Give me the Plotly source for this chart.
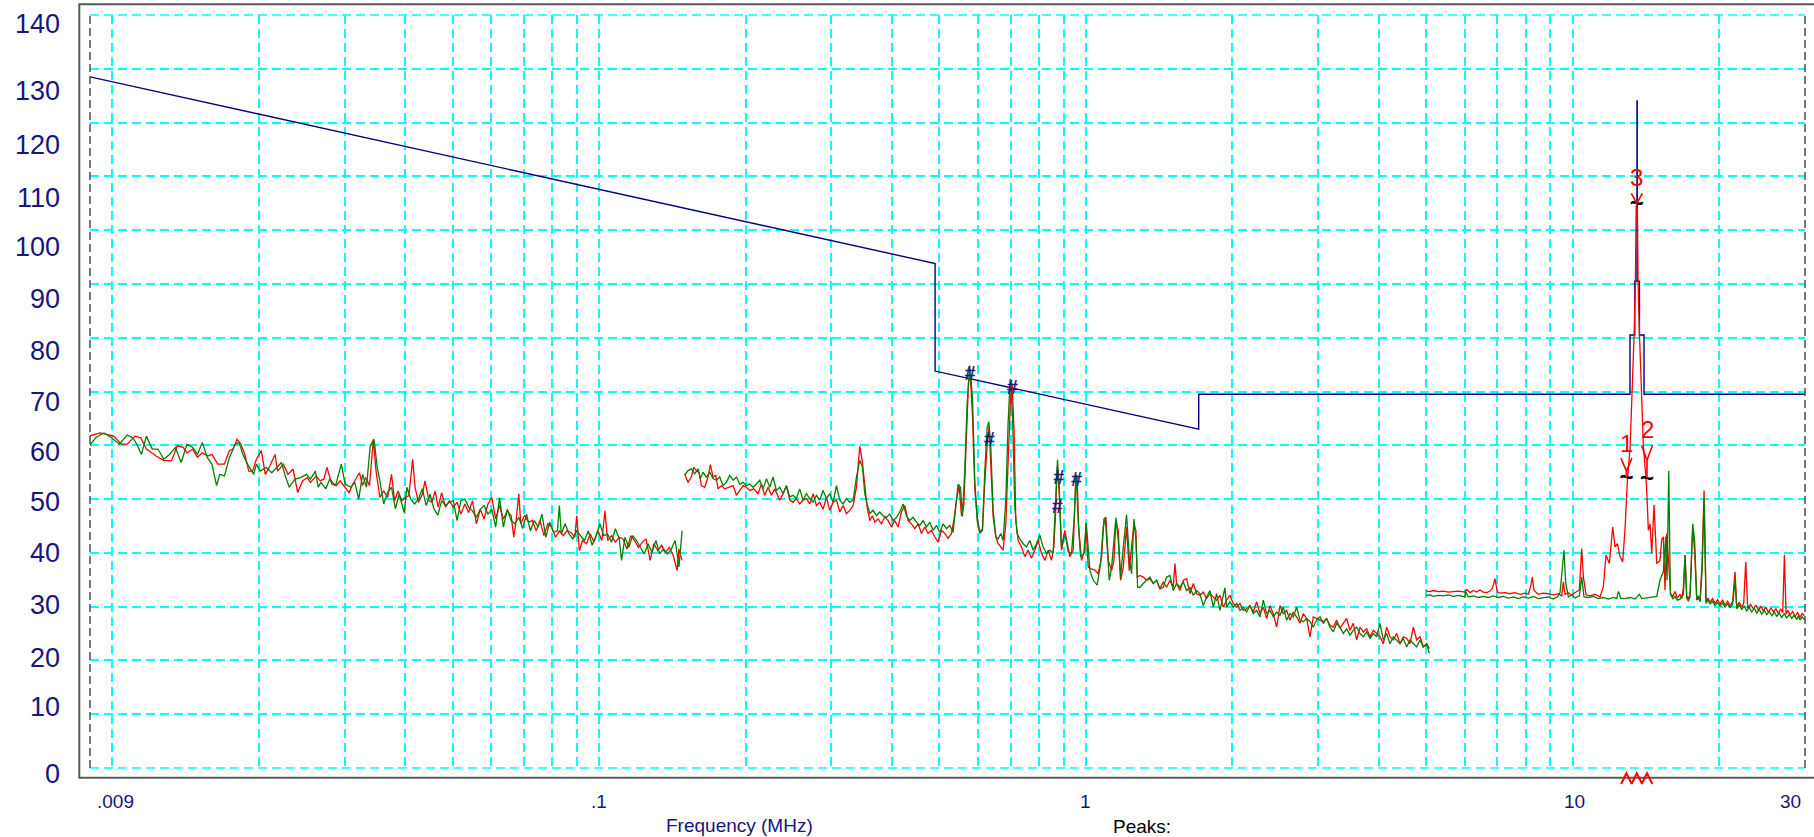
import numpy as np
import plotly.graph_objects as go

# ---------------- DATA ----------------
# Limit line (MHz, dBuV/m)
LIMIT_F = [0.009, 0.49, 0.49, 1.705, 1.705, 13.11, 13.11, 13.41, 13.41, 13.553, 13.553,
           13.567, 13.567, 13.71, 13.71, 14.01, 14.01, 30.0]
LIMIT_DB = [128.5, 93.8, 73.8, 63.0, 69.5, 69.5, 80.5, 80.5, 90.5, 90.5, 124.0,
            124.0, 90.5, 90.5, 80.5, 80.5, 69.5, 69.5]

# Band 1 (9 kHz - 150 kHz), frequencies in kHz
B1_RED_F_KHZ = [8.94, 9.44, 9.79, 10.06, 10.44, 10.73, 11.13, 11.44, 11.75, 12.30,
                12.76, 13.23, 13.60, 13.98, 14.24, 14.63, 14.96, 15.31, 15.73, 16.02,
                16.47, 16.99, 17.40, 17.72, 18.05, 18.38, 18.72, 19.07, 19.42, 19.77,
                20.24, 20.62, 21.08, 21.59, 21.86, 22.46, 22.96, 23.51, 24.04, 24.61,
                25.16, 25.53, 26.24, 26.72, 27.21, 27.61, 28.23, 28.85, 29.38, 29.92,
                30.64, 31.21, 31.78, 32.19, 32.67, 33.15, 33.76, 34.38, 34.82, 35.46,
                36.11, 36.78, 37.46, 38.01, 38.64, 39.35, 39.92, 40.66, 41.41, 41.87,
                42.56, 43.35, 43.90, 44.71, 45.36, 46.03, 46.71, 47.49, 48.37, 49.26,
                50.16, 51.09, 52.02, 52.98, 53.96, 54.95, 55.97, 57.00, 58.05, 59.11,
                60.20, 61.31, 62.44, 63.59, 64.77, 65.96, 66.80, 67.54, 68.40, 69.03,
                70.31, 71.60, 72.93, 74.27, 75.64, 77.03, 78.44, 79.89, 81.37, 82.86,
                84.39, 85.94, 87.53, 89.14, 89.96, 91.11, 92.46, 94.20, 95.90, 97.65,
                99.46, 101.3, 102.8, 104.1, 106.1, 108.0, 110.0, 112.0, 114.1, 116.2,
                118.3, 120.5, 122.7, 124.9, 127.3, 129.6, 132.0, 134.4, 136.9, 139.4,
                142.0, 144.6, 145.9, 148.1]
B1_RED = [61.7, 62.3, 62.0, 61.7, 60.2, 60.2, 61.7, 61.4, 59.3, 58.0,
          57.2, 57.1, 59.9, 59.6, 58.6, 59.3, 57.8, 58.6, 58.0, 58.3,
          56.5, 56.5, 59.0, 59.3, 61.1, 60.2, 58.3, 55.2, 55.2, 57.4,
          59.0, 54.6, 56.2, 58.3, 55.2, 56.5, 54.6, 55.6, 51.2, 53.4,
          54.0, 53.1, 54.3, 53.4, 53.7, 55.9, 52.8, 52.5, 53.4, 52.5,
          51.2, 52.8, 54.0, 54.9, 52.5, 54.0, 52.5, 61.1, 55.2, 50.3,
          51.5, 50.3, 54.6, 49.7, 51.5, 49.7, 50.3, 50.6, 57.4, 52.2,
          49.4, 50.9, 53.4, 49.7, 49.4, 51.5, 48.5, 51.2, 48.5, 49.7,
          48.5, 49.4, 47.2, 49.1, 47.5, 49.7, 45.4, 48.1, 46.3, 49.1,
          50.3, 46.3, 48.8, 46.3, 47.8, 46.9, 42.9, 46.0, 51.0, 45.4,
          47.0, 45.7, 46.0, 44.1, 46.0, 43.2, 45.4, 44.8, 42.9, 44.1,
          43.2, 44.1, 43.8, 42.9, 46.9, 40.4, 42.3, 41.7, 43.5, 42.0,
          44.1, 42.3, 47.8, 42.3, 43.2, 42.0, 42.9, 42.6, 40.7, 43.2,
          42.3, 41.0, 42.0, 42.6, 38.6, 41.7, 40.4, 41.4, 40.1, 41.0,
          39.5, 36.7, 40.7, 38.6]
B1_GRN_F_KHZ = [8.94, 9.27, 9.61, 9.97, 10.34, 10.73, 11.02, 11.23, 11.48, 11.75,
                12.08, 12.41, 12.76, 13.11, 13.48, 13.85, 14.24, 14.63, 14.96, 15.31,
                15.68, 16.02, 16.38, 16.63, 17.00, 17.40, 17.88, 18.21, 18.55, 18.96,
                19.52, 19.77, 20.14, 20.70, 21.27, 21.75, 22.26, 22.67, 23.09, 23.73,
                24.39, 25.07, 25.53, 26.14, 26.48, 26.82, 27.46, 27.97, 28.75, 29.54,
                30.08, 30.92, 31.49, 32.08, 32.67, 33.27, 33.88, 34.50, 35.01, 35.46,
                36.11, 36.78, 37.46, 38.15, 38.84, 39.78, 40.29, 41.03, 41.79, 42.56,
                43.35, 44.14, 44.95, 45.78, 46.63, 47.49, 48.37, 49.26, 50.16, 51.09,
                52.02, 52.98, 53.96, 54.95, 55.97, 57.00, 58.05, 59.11, 60.20, 61.31,
                62.44, 63.59, 64.77, 65.96, 67.17, 68.40, 69.67, 70.96, 72.26, 73.59,
                74.95, 76.33, 77.73, 79.17, 80.62, 82.11, 82.86, 83.62, 85.16, 86.73,
                88.33, 89.96, 91.61, 93.30, 95.05, 96.77, 98.56, 100.4, 102.2, 104.1,
                106.1, 108.0, 110.0, 111.2, 113.0, 115.1, 117.2, 119.4, 121.6, 123.8,
                126.1, 128.4, 130.8, 133.2, 135.6, 138.2, 140.7, 143.3, 145.9, 148.1]
B1_GRN = [59.7, 61.5, 62.3, 61.4, 60.2, 61.9, 61.4, 60.2, 58.3, 61.7,
          59.3, 59.3, 57.4, 58.3, 59.6, 56.8, 60.2, 59.6, 58.3, 60.5,
          57.7, 56.5, 52.5, 54.6, 54.3, 57.7, 60.2, 60.5, 58.3, 56.5,
          54.6, 56.5, 55.2, 55.9, 54.9, 55.9, 56.8, 54.3, 52.2, 53.7,
          54.0, 54.6, 53.7, 55.2, 52.2, 53.1, 51.9, 53.7, 52.5, 56.5,
          52.8, 52.2, 53.1, 50.0, 54.6, 52.2, 59.9, 61.1, 55.9, 53.4,
          49.1, 51.2, 52.2, 48.2, 50.9, 47.5, 52.2, 50.0, 49.1, 50.0,
          51.9, 48.8, 50.9, 48.2, 47.0, 49.7, 48.8, 49.4, 49.7, 46.0,
          49.7, 50.0, 48.5, 47.8, 46.6, 48.1, 48.8, 47.2, 48.1, 44.8,
          50.3, 44.8, 48.1, 46.0, 45.4, 46.6, 44.5, 47.2, 44.1, 46.0,
          44.8, 47.2, 42.9, 45.7, 43.8, 44.1, 48.8, 43.5, 45.4, 43.5,
          42.6, 44.1, 43.2, 42.3, 44.1, 41.4, 43.2, 45.4, 43.2, 43.5,
          42.0, 44.5, 42.6, 38.6, 42.9, 41.0, 43.2, 42.3, 41.0, 39.8,
          41.7, 40.1, 42.3, 39.8, 40.7, 39.8, 40.7, 42.3, 37.4, 44.1]

# Band 2 (150 kHz - 5 MHz), MHz
B2_RED_F = [0.1499, 0.1523, 0.1547, 0.1565, 0.1584, 0.1605, 0.1622, 0.1648, 0.1674, 0.1693,
            0.1714, 0.1736, 0.1756, 0.1783, 0.1812, 0.1841, 0.1885, 0.1915, 0.1945, 0.1976,
            0.2007, 0.2039, 0.2078, 0.2121, 0.2155, 0.2189, 0.2224, 0.2259, 0.2295, 0.2332,
            0.2350, 0.2388, 0.2425, 0.2464, 0.2503, 0.2543, 0.2583, 0.2624, 0.2666, 0.2709,
            0.2752, 0.2795, 0.2840, 0.2885, 0.2931, 0.2977, 0.3025, 0.3073, 0.3122, 0.3171,
            0.3222, 0.3273, 0.3325, 0.3378, 0.3410, 0.3431, 0.3470, 0.3514, 0.3553, 0.3598,
            0.3643, 0.3684, 0.3742, 0.3802, 0.3862, 0.3924, 0.3986, 0.4049, 0.4114, 0.4179,
            0.4246, 0.4313, 0.4382, 0.4451, 0.4522, 0.4594, 0.4667, 0.4741, 0.4816, 0.4893,
            0.4971, 0.5050, 0.5130, 0.5212, 0.5294, 0.5353, 0.5421, 0.5490, 0.5551, 0.5613,
            0.5684, 0.5738, 0.5783, 0.5848, 0.5912, 0.5987, 0.6054, 0.6131, 0.6199, 0.6268,
            0.6327, 0.6377, 0.6448, 0.6530, 0.6602, 0.6686, 0.6760, 0.6846, 0.6922, 0.6999,
            0.7055, 0.7122, 0.7178, 0.7258, 0.7373, 0.7490, 0.7609, 0.7730, 0.7853, 0.7978,
            0.8105, 0.8234, 0.8365, 0.8497, 0.8592, 0.8660, 0.8728, 0.8811, 0.8909, 0.8980,
            0.9051, 0.9151, 0.9267, 0.9415, 0.9474, 0.9534, 0.9595, 0.9655, 0.9793, 0.9949,
            1.0000,
            1.0111, 1.0272, 1.0434, 1.0600, 1.0770, 1.0889, 1.0993, 1.1115, 1.1291, 1.1416,
            1.1525, 1.1653, 1.1782, 1.1932, 1.2121, 1.2275, 1.2412, 1.2550, 1.2669, 1.2750,
            1.2911, 1.3115, 1.3324, 1.3536, 1.3751, 1.3970, 1.4192, 1.4418, 1.4647, 1.4879,
            1.5116, 1.5236, 1.5357, 1.5601, 1.5849, 1.6101, 1.6357, 1.6617, 1.6881, 1.7149,
            1.7421, 1.7698, 1.7979, 1.8265, 1.8555, 1.8851, 1.9150, 1.9455, 1.9764, 2.0078,
            2.0397, 2.0722, 2.1051, 2.1386, 2.1726, 2.2070, 2.2421, 2.2778, 2.3140, 2.3508,
            2.3882, 2.4262, 2.4647, 2.5039, 2.5437, 2.5841, 2.6252, 2.6669, 2.7093, 2.7524,
            2.7962, 2.8406, 2.8857, 2.9316, 2.9782, 3.0254, 3.0736, 3.1224, 3.1721, 3.2225,
            3.2737, 3.3257, 3.3786, 3.4323, 3.4869, 3.5422, 3.5986, 3.6558, 3.7139, 3.7730,
            3.8328, 3.8938, 3.9557, 4.0186, 4.0825, 4.1473, 4.2133, 4.2802, 4.3483, 4.4174,
            4.4876, 4.5589, 4.6314, 4.7050, 4.7798, 4.8557, 4.9330, 5.0113, 5.0750]
B2_RED = [54.7, 53.1, 54.1, 55.9, 55.3, 54.9, 52.5, 52.2, 54.1, 56.4,
          54.1, 54.4, 51.9, 52.5, 51.9, 52.2, 52.5, 50.7, 51.6, 52.5,
          52.2, 51.6, 51.9, 51.0, 52.8, 50.7, 52.2, 50.7, 51.9, 50.4,
          49.8, 51.0, 52.5, 49.8, 49.4, 50.1, 49.1, 49.8, 50.1, 49.1,
          51.0, 48.8, 49.4, 48.1, 50.3, 47.9, 49.4, 49.8, 47.6, 48.8,
          47.3, 47.9, 48.8, 52.2, 56.5, 59.8, 57.2, 52.2, 48.5, 46.0,
          46.9, 45.7, 46.3, 45.4, 46.7, 46.0, 44.8, 46.0, 44.8, 47.6,
          48.8, 46.0, 45.4, 44.5, 45.4, 43.6, 44.8, 43.6, 44.2, 43.0,
          42.0, 44.2, 43.6, 42.7, 43.6, 46.0, 49.8, 52.5, 46.9, 48.8,
          61.7, 71.6, 73.5, 65.4, 51.9, 46.3, 43.8, 44.5, 53.1, 60.0,
          63.4, 57.2, 46.7, 43.0, 41.7, 41.1, 40.5, 45.4, 57.2, 68.5,
          71.5, 62.0, 46.0, 42.3, 41.1, 39.3, 40.5, 39.0, 40.5, 42.3,
          39.9, 38.6, 40.5, 38.6, 41.1, 47.0, 56.0, 51.5, 40.5, 42.0,
          44.2, 41.7, 39.3, 40.5, 46.0, 54.0, 54.4, 45.0, 38.6, 40.5,
          45.5,
          37.3, 37.0, 36.8, 36.1, 39.2, 46.3, 46.6, 38.6, 36.7, 38.6,
          46.0, 44.1, 34.9, 37.3, 44.8, 36.7, 40.5, 45.4, 44.1, 35.5,
          35.8, 35.5, 34.9, 35.2, 34.3, 34.9, 33.3, 34.6, 33.6, 34.9,
          33.6, 38.0, 34.3, 33.0, 34.9, 35.2, 32.4, 34.3, 32.4, 32.1,
          32.7, 31.5, 32.4, 31.8, 31.2, 32.1, 29.9, 31.2, 32.1, 30.6,
          29.9, 30.6, 29.3, 29.6, 30.2, 29.0, 30.9, 28.7, 29.9, 27.8,
          30.2, 28.7, 26.2, 30.2, 28.7, 29.3, 27.5, 29.0, 28.1, 26.9,
          28.7, 27.8, 24.4, 28.1, 27.8, 27.5, 27.2, 27.8, 26.5, 26.2,
          27.5, 26.0, 26.9, 27.8, 25.6, 26.9, 23.8, 26.2, 25.3, 25.9,
          24.4, 25.6, 25.0, 24.4, 23.1, 26.2, 24.4, 23.8, 25.0, 23.1,
          24.4, 24.1, 23.1, 26.2, 23.8, 24.4, 22.5, 23.1, 22.2]
B2_GRN_F = [0.1499, 0.1523, 0.1547, 0.1572, 0.1597, 0.1615, 0.1635, 0.1661, 0.1688, 0.1714,
            0.1742, 0.1769, 0.1798, 0.1826, 0.1855, 0.1885, 0.1915, 0.1945, 0.1976, 0.2007,
            0.2039, 0.2072, 0.2105, 0.2138, 0.2172, 0.2207, 0.2242, 0.2277, 0.2313, 0.2350,
            0.2388, 0.2425, 0.2464, 0.2503, 0.2543, 0.2583, 0.2624, 0.2666, 0.2709, 0.2752,
            0.2795, 0.2840, 0.2885, 0.2931, 0.2977, 0.3025, 0.3073, 0.3122, 0.3171, 0.3222,
            0.3273, 0.3325, 0.3378, 0.3431, 0.3475, 0.3514, 0.3553, 0.3598, 0.3655, 0.3713,
            0.3772, 0.3832, 0.3893, 0.3955, 0.4018, 0.4082, 0.4147, 0.4212, 0.4279, 0.4347,
            0.4416, 0.4486, 0.4558, 0.4630, 0.4704, 0.4779, 0.4855, 0.4932, 0.5010, 0.5090,
            0.5171, 0.5253, 0.5336, 0.5404, 0.5464, 0.5525, 0.5577, 0.5639, 0.5702, 0.5774,
            0.5848, 0.5912, 0.5978, 0.6054, 0.6131, 0.6199, 0.6268, 0.6317, 0.6377, 0.6448,
            0.6530, 0.6602, 0.6686, 0.6760, 0.6846, 0.6922, 0.6988, 0.7066, 0.7144, 0.7223,
            0.7315, 0.7431, 0.7550, 0.7670, 0.7791, 0.7915, 0.8041, 0.8169, 0.8299, 0.8431,
            0.8565, 0.8660, 0.8742, 0.8811, 0.8909, 0.9008, 0.9094, 0.9195, 0.9341, 0.9460,
            0.9549, 0.9640, 0.9747, 0.9902, 1.0020,
            1.0191, 1.0352, 1.0550, 1.0718, 1.0855, 1.0958, 1.1062, 1.1168, 1.1291, 1.1434,
            1.1525, 1.1653, 1.1782, 1.1932, 1.2121, 1.2275, 1.2412, 1.2550, 1.2669, 1.2770,
            1.2911, 1.3115, 1.3324, 1.3536, 1.3751, 1.3970, 1.4192, 1.4418, 1.4647, 1.4879,
            1.5116, 1.5357, 1.5601, 1.5849, 1.6101, 1.6357, 1.6617, 1.6881, 1.7149, 1.7421,
            1.7698, 1.7979, 1.8265, 1.8555, 1.8851, 1.9150, 1.9302, 1.9455, 1.9764, 2.0078,
            2.0397, 2.0722, 2.1051, 2.1386, 2.1726, 2.2070, 2.2421, 2.2778, 2.3140, 2.3508,
            2.3882, 2.4262, 2.4647, 2.5039, 2.5437, 2.5841, 2.6252, 2.6669, 2.7093, 2.7524,
            2.7962, 2.8406, 2.8857, 2.9316, 2.9782, 3.0254, 3.0736, 3.1224, 3.1721, 3.2225,
            3.2737, 3.3257, 3.3786, 3.4323, 3.4869, 3.5422, 3.5986, 3.6558, 3.7139, 3.7730,
            3.8328, 3.8938, 3.9557, 4.0186, 4.0825, 4.1473, 4.2133, 4.2802, 4.3483, 4.4174,
            4.4876, 4.5589, 4.6314, 4.7050, 4.7798, 4.8557, 4.9330, 5.0113, 5.0750]
B2_GRN = [54.4, 55.3, 55.6, 54.7, 55.6, 53.8, 55.0, 54.1, 55.0, 53.8,
          53.5, 54.1, 52.5, 53.1, 54.4, 53.5, 54.1, 52.8, 53.1, 52.5,
          52.8, 52.2, 52.8, 53.5, 51.9, 53.8, 52.2, 54.1, 51.6, 52.2,
          51.0, 52.5, 50.4, 50.7, 50.1, 51.9, 49.8, 51.0, 50.1, 49.4,
          50.7, 49.8, 51.6, 50.1, 51.0, 49.4, 52.5, 49.8, 49.1, 50.1,
          49.4, 49.8, 54.1, 57.2, 56.0, 51.0, 49.1, 47.3, 47.9, 46.9,
          47.6, 46.9, 46.6, 47.2, 46.0, 46.6, 47.6, 49.1, 46.9, 46.0,
          46.6, 45.7, 45.1, 46.0, 44.8, 45.7, 44.2, 45.1, 43.8, 45.4,
          44.5, 45.1, 43.8, 48.5, 52.8, 52.2, 46.7, 55.3, 67.7, 74.8,
          68.9, 53.5, 46.0, 43.6, 44.2, 55.3, 63.3, 64.4, 59.6, 47.9,
          43.0, 42.6, 43.6, 42.3, 49.8, 64.2, 72.3, 65.8, 48.5, 43.6,
          42.6, 41.7, 41.1, 42.3, 40.5, 41.7, 43.3, 41.1, 39.9, 40.5,
          39.9, 49.1, 57.3, 52.5, 40.9, 43.3, 42.7, 40.2, 39.9, 46.3,
          54.6, 46.3, 39.3, 39.9, 45.5,
          36.7, 34.9, 34.0, 38.0, 44.8, 46.5, 41.0, 34.9, 37.3, 43.5,
          46.5, 42.3, 35.5, 41.0, 47.1, 39.2, 36.1, 46.3, 42.3, 33.6,
          33.6, 34.3, 34.9, 35.5, 34.3, 34.9, 33.3, 33.6, 35.5, 35.8,
          33.0, 34.3, 33.6, 34.6, 33.0, 33.6, 32.1, 33.0, 32.4, 30.2,
          31.8, 33.0, 29.9, 32.4, 29.3, 32.4, 33.5, 29.9, 30.9, 29.9,
          30.6, 29.3, 29.9, 29.0, 30.2, 28.7, 29.3, 28.1, 31.2, 28.7,
          29.3, 28.1, 29.0, 28.4, 29.9, 27.5, 28.7, 28.1, 29.9, 27.5,
          27.2, 27.8, 27.2, 26.2, 27.5, 28.1, 26.9, 27.8, 26.2, 25.3,
          26.9, 26.2, 25.0, 25.9, 24.7, 25.6, 26.2, 25.0, 24.4, 25.3,
          24.1, 25.0, 24.4, 26.9, 23.8, 25.0, 23.1, 24.4, 23.8, 23.1,
          24.1, 22.5, 23.8, 23.1, 22.5, 23.8, 22.5, 23.1, 21.3]

# Band 3 (5 - 30 MHz), MHz
B3_RED_F = [4.995, 5.091, 5.172, 5.295, 5.422, 5.552, 5.685, 5.821, 6.007, 6.055,
            6.151, 6.249, 6.348, 6.449, 6.552, 6.656, 6.762, 6.847, 6.923, 7.000,
            7.089, 7.259, 7.433, 7.611, 7.793, 7.979, 8.106, 8.196, 8.261, 8.326,
            8.499, 8.703, 8.911, 9.124, 9.343, 9.491, 9.566, 9.642, 9.795, 9.951,
            10.061, 10.319, 10.433, 10.516, 10.650, 10.853, 11.113, 11.378, 11.559, 11.706,
            11.892, 12.081, 12.215, 12.351, 12.508, 12.666, 12.807, 12.95, 13.12, 13.29,
            13.37, 13.45, 13.50, 13.58, 13.62, 13.71, 13.80, 13.97, 14.17, 14.30,
            14.415, 14.53, 14.69, 14.88, 15.11, 15.23, 15.35, 15.47, 15.60, 15.75,
            15.89, 16.05, 16.225, 16.40, 16.613, 16.75, 16.877, 17.011, 17.145, 17.28,
            17.418, 17.639, 17.807, 17.976, 18.12, 18.262, 18.436, 18.611, 18.787, 18.96,
            19.146, 19.37, 19.605, 19.84, 20.074, 20.31, 20.554, 20.80, 21.046, 21.30,
            21.550, 21.721, 21.98, 22.241, 22.45, 22.666, 22.881, 23.19, 23.503, 23.78,
            24.066, 24.35, 24.643, 24.94, 25.232, 25.53, 25.835, 26.14, 26.454, 26.73,
            27.002, 27.215, 27.431, 27.69, 27.956, 28.29, 28.625, 28.96, 29.310, 29.61,
            29.917]
B3_RED = [32.9, 32.8, 33.0, 32.8, 32.9, 32.7, 32.8, 32.9, 32.7, 33.2,
          32.6, 33.0, 32.7, 33.1, 32.7, 32.6, 32.9, 33.5, 35.2, 32.7,
          32.5, 32.6, 32.4, 32.6, 32.3, 32.5, 32.3, 33.8, 35.5, 33.0,
          32.3, 32.5, 32.4, 32.2, 32.4, 32.0, 34.6, 32.3, 32.6, 32.1,
          32.5, 33.1, 40.8, 35.5, 32.2, 32.0, 32.3, 31.8, 33.7, 39.6,
          38.0, 44.8, 41.1, 41.7, 39.3, 38.3, 44.5, 53.5, 59.7, 72.1,
          80.8, 90.7, 104.5, 104.0, 90.7, 80.8, 72.1, 59.7, 52.9, 44.2,
          45.4, 39.9, 48.9, 38.0, 38.6, 42.4, 43.0, 33.1, 43.6, 38.6,
          32.4, 31.9, 32.8, 31.6, 32.3, 31.5, 33.5, 39.6, 32.0, 31.4,
          32.4, 44.8, 40.0, 31.5, 32.0, 31.2, 38.0, 51.6, 31.0, 31.6,
          30.8, 31.5, 30.6, 31.3, 30.5, 31.2, 30.3, 31.0, 30.2, 30.9,
          36.5, 30.0, 30.8, 29.9, 30.6, 38.3, 29.7, 30.4, 29.6, 30.3,
          29.3, 30.1, 29.2, 29.9, 28.9, 29.8, 29.0, 29.6, 28.7, 29.5,
          28.9, 39.6, 28.6, 29.3, 28.4, 29.1, 28.2, 28.9, 28.0, 28.7,
          28.3]
B3_GRN_F = [4.995, 5.091, 5.172, 5.295, 5.422, 5.552, 5.685, 5.821, 6.007, 6.026,
            6.103, 6.249, 6.399, 6.552, 6.709, 6.869, 7.034, 7.202, 7.374, 7.551,
            7.732, 7.917, 8.106, 8.300, 8.499, 8.703, 8.911, 9.124, 9.298, 9.417,
            9.506, 9.597, 9.672, 9.795, 9.951, 10.109, 10.319, 10.433, 10.549, 10.768,
            11.026, 11.289, 11.559, 11.836, 12.119, 12.312, 12.410, 12.547, 12.807, 13.114,
            13.427, 13.706, 13.858, 14.078, 14.53, 14.88, 15.11, 15.35, 15.523, 15.622,
            15.75, 15.870, 16.05, 16.225, 16.40, 16.613, 16.75, 16.877, 17.011, 17.145,
            17.28, 17.418, 17.639, 17.807, 17.976, 18.12, 18.262, 18.436, 18.611, 18.787,
            18.96, 19.146, 19.37, 19.605, 19.84, 20.074, 20.31, 20.554, 20.80, 21.046,
            21.30, 21.550, 21.721, 21.98, 22.241, 22.50, 22.774, 23.04, 23.318, 23.60,
            23.877, 24.16, 24.449, 24.74, 25.034, 25.33, 25.633, 25.94, 26.246, 26.56,
            26.874, 27.19, 27.518, 27.85, 28.177, 28.51, 28.852, 29.08, 29.310, 29.61,
            29.917]
B3_GRN = [32.1, 32.2, 31.9, 32.1, 32.0, 32.2, 31.9, 32.1, 31.8, 32.8,
          31.8, 32.0, 31.7, 31.9, 31.7, 32.0, 31.7, 31.9, 31.6, 31.8,
          31.5, 31.8, 31.6, 31.9, 31.5, 31.7, 31.8, 31.4, 31.8, 32.6,
          36.5, 40.5, 34.5, 31.8, 32.2, 31.6, 32.0, 35.5, 31.8, 31.7,
          31.9, 31.5, 31.7, 31.4, 31.7, 31.5, 32.8, 31.6, 31.5, 31.7,
          31.4, 32.3, 31.5, 31.6, 31.8, 31.9, 34.9, 36.5, 43.0, 34.9,
          55.2, 32.4, 31.5, 31.9, 31.2, 31.4, 31.9, 32.2, 39.6, 31.6,
          31.0, 31.8, 45.4, 42.0, 31.2, 31.6, 30.9, 36.5, 50.1, 30.6,
          31.2, 30.5, 31.0, 30.2, 30.8, 30.1, 30.7, 29.9, 30.5, 29.8,
          30.4, 34.9, 29.6, 30.3, 29.5, 30.1, 29.2, 29.9, 29.0, 29.7,
          28.8, 29.5, 28.6, 29.3, 28.5, 29.1, 28.3, 29.0, 28.2, 28.8,
          28.0, 28.7, 27.9, 28.5, 27.8, 28.4, 27.6, 28.3, 27.5, 28.1,
          27.6]

# "#" markers
HASH_F = [0.578, 0.633, 0.706, 0.880, 0.873, 0.957]
HASH_DB = [73.1, 60.8, 70.5, 53.7, 48.4, 53.3]

# Numbered peaks
PEAK_LABELS = ["1", "2", "3"]
PEAK_F = [12.89, 14.21, 13.54]
PEAK_DB = [53.7, 53.5, 104.6]

# Axis labels
Y_TICKS = [140, 130, 120, 110, 100, 90, 80, 70, 60, 50, 40, 30, 20, 10, 0]
X_TICK_TEXT = [".009", ".1", "1", "10", "30"]
X_TICK_F = [0.009, 0.1, 1.0, 10.0, 30.0]

# ---------------- LAYOUT CONSTANTS ----------------
W, H = 1814, 837
ML, MR, MT, MB = 90, 9, 15, 69
PW = W - ML - MR
PH = H - MT - MB
NAVY = "#16167e"
FONT = "Liberation Sans, Arial, sans-serif"


def ppx(x):
    return (x - ML) / PW


def ppy(y):
    return (H - MB - y) / PH


# pixel placement of the y tick labels (centres)
Y_LABEL_PX = [24.5, 91.0, 145.0, 197.5, 247.0, 298.5, 350.5, 402.0, 451.7, 501.5,
              553.0, 605.0, 657.5, 707.0, 773.5]

fig = go.Figure()

fig.add_trace(go.Scatter(x=LIMIT_F, y=LIMIT_DB, mode="lines",
                         line=dict(color="#000080", width=1.4), hoverinfo="skip"))

red_x = [f / 1000.0 for f in B1_RED_F_KHZ] + [None] + B2_RED_F + [None] + B3_RED_F
red_y = B1_RED + [None] + B2_RED + [None] + B3_RED
grn_x = [f / 1000.0 for f in B1_GRN_F_KHZ] + [None] + B2_GRN_F + [None] + B3_GRN_F
grn_y = B1_GRN + [None] + B2_GRN + [None] + B3_GRN

fig.add_trace(go.Scatter(x=red_x, y=red_y, mode="lines", connectgaps=False,
                         line=dict(color="#ff0000", width=1.3), hoverinfo="skip"))
fig.add_trace(go.Scatter(x=grn_x, y=grn_y, mode="lines", connectgaps=False,
                         line=dict(color="#008000", width=1.3), hoverinfo="skip"))

# '#' markers
fig.add_trace(go.Scatter(x=HASH_F, y=HASH_DB, mode="text", text=["#"] * len(HASH_F),
                         textposition="middle center",
                         textfont=dict(family=FONT, size=20, color="#1a1a8c", weight="bold"),
                         hoverinfo="skip"))
# '~' at peak points
fig.add_trace(go.Scatter(x=PEAK_F, y=PEAK_DB, mode="text", text=["~"] * len(PEAK_F),
                         textposition="middle center",
                         textfont=dict(family=FONT, size=24, color="#000000", weight="bold"),
                         hoverinfo="skip"))

shapes = []
# frame
shapes.append(dict(type="rect", xref="paper", yref="paper",
                   x0=ppx(79.3), x1=ppx(1830), y0=ppy(777.7), y1=ppy(4.3),
                   line=dict(color="#5a5a5a", width=2), fillcolor="rgba(0,0,0,0)", layer="below"))
# edge gridlines
for yv in (0, 1):
    shapes.append(dict(type="line", xref="paper", yref="paper", x0=0, x1=1, y0=yv, y1=yv,
                       line=dict(color="#00ffff", width=1.6, dash="9px,5px"), layer="below"))
for xv in (0, 1):
    shapes.append(dict(type="line", xref="paper", yref="paper", x0=xv, x1=xv, y0=0, y1=1,
                       line=dict(color="#4d4d4d", width=1.5, dash="8px,4px"), layer="above"))

# peak arrows (V + stem), pixel geometry relative to the peak point
ARROW_GEOM = {"1": (21, 8, 1), "2": (35, 20, 2), "3": (12, 2, 2)}
LABEL_SHIFT = {"1": 35.5, "2": 51.0, "3": 27.5}
for lab, f, db in zip(PEAK_LABELS, PEAK_F, PEAK_DB):
    top, vert, stem = ARROW_GEOM[lab]
    path = f"M-5.5,{top} L0,{vert} L5.5,{top} M0,{vert} L0,{stem}"
    shapes.append(dict(type="path", xref="x", yref="y", xsizemode="pixel", ysizemode="pixel",
                       xanchor=f, yanchor=db, path=path,
                       line=dict(color="#ff0000", width=1.6)))
    # caret under the axis
    shapes.append(dict(type="path", xref="x", yref="paper", xsizemode="pixel", ysizemode="pixel",
                       xanchor=f, yanchor=0, path="M-5.3,-16 L0,-5.3 L5.3,-16",
                       line=dict(color="#ff0000", width=2)))

annotations = []
for lab, f, db in zip(PEAK_LABELS, PEAK_F, PEAK_DB):
    annotations.append(dict(x=np.log10(f), y=db, xref="x", yref="y", text=lab, showarrow=False,
                            yshift=LABEL_SHIFT[lab], xanchor="center", yanchor="middle",
                            font=dict(family=FONT, size=24, color="#ff0000")))

for t, ypx in zip(Y_TICKS, Y_LABEL_PX):
    annotations.append(dict(x=ppx(62), y=ppy(ypx), xref="paper", yref="paper", text=str(t),
                            showarrow=False, xanchor="right", yanchor="middle",
                            font=dict(family=FONT, size=27, color=NAVY)))

X_ANCHOR = ["left", "center", "center", "center", "right"]
X_SHIFT = [5, 0, 0, 2, -2]
for t, f, xa, xs in zip(X_TICK_TEXT, X_TICK_F, X_ANCHOR, X_SHIFT):
    annotations.append(dict(x=np.log10(f), y=ppy(801.5), xref="x", yref="paper", text=t,
                            showarrow=False, xanchor=xa, yanchor="middle", xshift=xs,
                            font=dict(family=FONT, size=19, color=NAVY)))

annotations.append(dict(x=ppx(739), y=ppy(825), xref="paper", yref="paper",
                        text="Frequency (MHz)", showarrow=False, xanchor="center",
                        yanchor="middle", font=dict(family=FONT, size=19, color=NAVY)))
annotations.append(dict(x=ppx(1111), y=ppy(826), xref="paper", yref="paper",
                        text="Peaks:", showarrow=False, xanchor="left",
                        yanchor="middle", font=dict(family=FONT, size=19, color="#000000")))

GRID_F = [m * 10.0 ** e for e in (-2, -1, 0) for m in range(1, 10)] + [10.0, 20.0]

fig.update_layout(
    width=W, height=H, autosize=False,
    margin=dict(l=ML, r=MR, t=MT, b=MB, pad=0),
    paper_bgcolor="white", plot_bgcolor="white",
    showlegend=False,
    shapes=shapes, annotations=annotations,
    xaxis=dict(type="log", range=[np.log10(0.009), np.log10(30.0)],
               tickmode="array", tickvals=GRID_F, showticklabels=False, ticks="",
               showgrid=True, gridcolor="#00ffff", gridwidth=1.6, griddash="9px,5px",
               zeroline=False, showline=False, fixedrange=True),
    yaxis=dict(range=[0, 140], tickmode="linear", tick0=0, dtick=10,
               showticklabels=False, ticks="",
               showgrid=True, gridcolor="#00ffff", gridwidth=1.6, griddash="9px,5px",
               zeroline=False, showline=False, fixedrange=True),
)

fig.write_html("out.html", config={"displayModeBar": False},
               post_script="document.body.style.margin='0px';"
                           "document.body.style.overflow='hidden';"
                           "document.documentElement.style.overflow='hidden';")
